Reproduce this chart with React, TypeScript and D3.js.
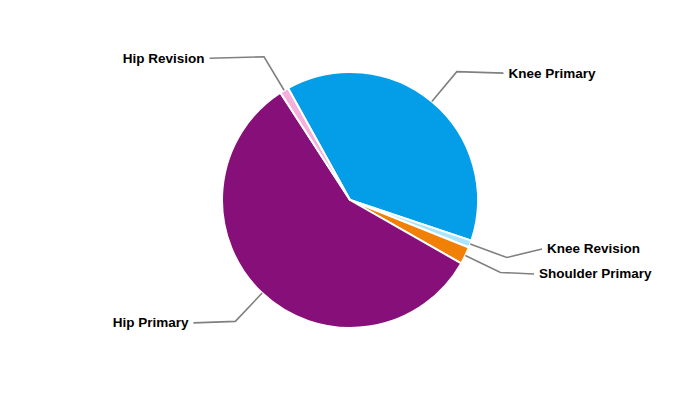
import React from 'react';
import * as d3 from 'd3';

const categories = ['Knee Primary', 'Knee Revision', 'Shoulder Primary', 'Hip Primary', 'Hip Revision'];
const values = [38.2, 0.9, 2.2, 57.6, 1.1];
const colors = ['#049ee8', '#a9e5fb', '#f08106', '#870f79', '#f4afdb'];

const W = 700;
const H = 400;
const cx = 350;
const cy = 200;
const r = 128;
const startDeg = -29;

export default function App() {
  const start = (startDeg * Math.PI) / 180;
  const pie = d3
    .pie<number>()
    .sort(null)
    .value((d) => d)
    .startAngle(start)
    .endAngle(start + 2 * Math.PI);
  const arcs = pie(values);
  const arc = d3.arc<d3.PieArcDatum<number>>().innerRadius(0).outerRadius(r);

  const breakR = r + 39;
  const labelR = 203;
  const pad = 5;
  const spacing = 25;

  const items = arcs.map((a, i) => {
    const mid = (a.startAngle + a.endAngle) / 2;
    const sx = Math.sin(mid);
    const sy = -Math.cos(mid);
    return {
      i,
      right: sx >= 0,
      touch: [cx + r * sx, cy + r * sy],
      brk: [cx + breakR * sx, cy + breakR * sy],
      y: cy + breakR * sy + 1.5,
    };
  });

  [true, false].forEach((side) => {
    const s = items.filter((d) => d.right === side).sort((a, b) => a.y - b.y);
    for (let k = s.length - 2; k >= 0; k--) {
      s[k].y = Math.min(s[k].y, s[k + 1].y - spacing);
    }
  });

  return (
    <svg
      width={W}
      height={H}
      style={{ position: 'absolute', left: 0, top: 0, background: '#fff' }}
      fontFamily="'Liberation Sans', Arial, sans-serif"
    >
      <g transform={`translate(${cx},${cy})`}>
        {arcs.map((a, i) => (
          <path key={i} d={arc(a) || ''} fill={colors[i]} stroke="#fff" strokeWidth={2} strokeLinejoin="round" />
        ))}
      </g>
      {items.map((d) => {
        const dx = Math.sqrt(Math.max(0, labelR * labelR - (d.y - cy) * (d.y - cy)));
        const tx = d.right ? cx + dx : cx - dx;
        const lx = d.right ? tx - pad : tx + pad;
        return (
          <g key={d.i}>
            <path
              d={`M${lx},${d.y}L${d.brk[0]},${d.brk[1]}L${d.touch[0]},${d.touch[1]}`}
              fill="none"
              stroke="#808080"
              strokeWidth={1.6}
            />
            <text
              x={tx}
              y={d.y}
              textAnchor={d.right ? 'start' : 'end'}
              dominantBaseline="central"
              fontSize={13.5}
              fontWeight="bold"
              fill="#000"
            >
              {categories[d.i]}
            </text>
          </g>
        );
      })}
    </svg>
  );
}
